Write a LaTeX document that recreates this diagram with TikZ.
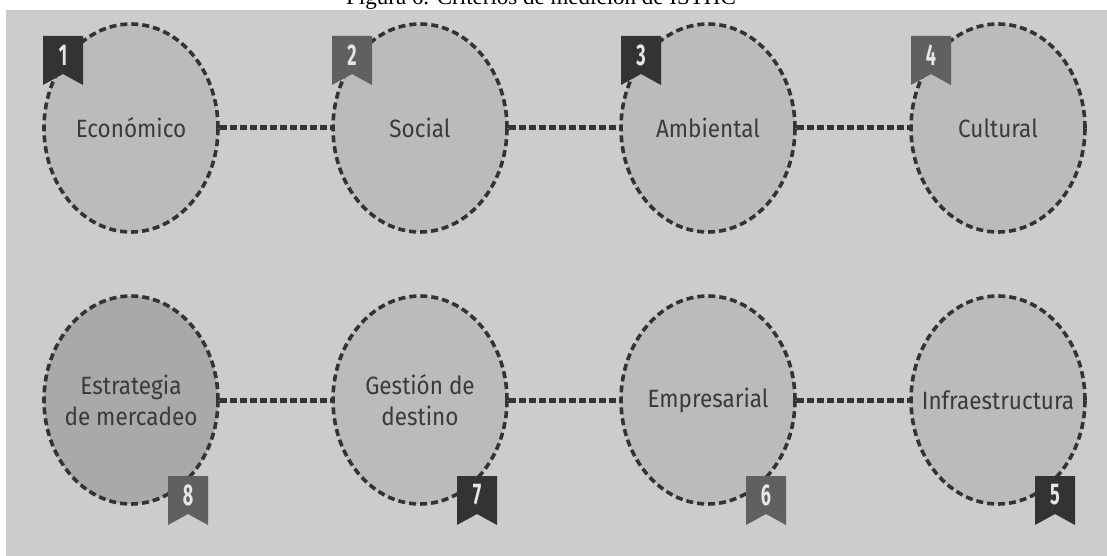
\documentclass[tikz,border=0pt]{standalone}
\usepackage{fontspec}
\usetikzlibrary{shapes.geometric,calc}
\newfontfamily\labfont[FakeStretch=0.9]{Fira Sans}
\newfontfamily\numfont[FakeStretch=0.6]{Fira Sans}
\newfontfamily\capfont{Liberation Serif}
\definecolor{bgc}{HTML}{CCCCCC}
\definecolor{bubc}{HTML}{BBBBBB}
\definecolor{bubd}{HTML}{A9A9A9}
\definecolor{dashc}{HTML}{333333}
\definecolor{txtc}{HTML}{3A3A3A}
\definecolor{ribdark}{HTML}{333333}
\definecolor{ribmid}{HTML}{606060}
\definecolor{numc}{HTML}{E6E6E6}
\tikzset{
  bub/.style={ellipse, draw=dashc, fill=bubc, line width=3.6pt,
    dash pattern=on 7pt off 4pt, minimum width=174pt, minimum height=208pt,
    inner ysep=0pt, inner xsep=-45pt, text=txtc, align=center,
    font=\labfont\fontsize{25}{31}\selectfont},
  conn/.style={draw=dashc, line width=5pt, dash pattern=on 7pt off 3pt},
  numtxt/.style={text=numc, inner sep=0pt, font=\numfont\bfseries\fontsize{30}{30}\selectfont},
}
% ribbon: #1 name, #2 left x, #3 top y, #4 colour, #5 number
\newcommand\ribbonmark[5]{%
  \fill[#4] (#2,#3) -- ++(40,0) -- ++(0,49) -- ++(-20,-11) -- ++(-20,11) -- cycle;
  \node[numtxt] (#1) at ($(#2,#3)+(20,19)$) {#5};
}
\begin{document}
\begin{tikzpicture}[x=1pt,y=-1pt]
\useasboundingbox (0,0) rectangle (1107,556);
\fill[white] (0,0) rectangle (1107,556);
\node[font=\capfont\fontsize{23}{23}\selectfont, anchor=base] (cap) at (541,5) {Figura 6. Criterios de medición de ISTHC};
\fill[bgc] (6,10) rectangle (1107,556);
% top row
\node[bub] (e1) at (131,128) {Económico};
\node[bub] (e2) at (420,128) {Social};
\node[bub] (e3) at (708,128) {Ambiental};
\node[bub] (e4) at (998,128) {Cultural};
% bottom row
\node[bub, fill=bubd] (e8) at (131,400) {Estrategia\\de mercadeo};
\node[bub] (e7) at (420,400) {Gestión de\\destino};
\node[bub] (e6) at (708,400) {Empresarial};
\node[bub] (e5) at (998,400) {Infraestructura};
% connectors
\draw[conn] (e1.east) -- (e2.west);
\draw[conn] (e2.east) -- (e3.west);
\draw[conn] (e3.east) -- (e4.west);
\draw[conn] (e8.east) -- (e7.west);
\draw[conn] (e7.east) -- (e6.west);
\draw[conn] (e6.east) -- (e5.west);
% ribbons
\ribbonmark{n1}{43}{36}{ribdark}{1}
\ribbonmark{n2}{332}{36}{ribmid}{2}
\ribbonmark{n3}{621}{36}{ribdark}{3}
\ribbonmark{n4}{911}{36}{ribmid}{4}
\ribbonmark{n8}{168}{476}{ribmid}{8}
\ribbonmark{n7}{457}{476}{ribdark}{7}
\ribbonmark{n6}{746}{476}{ribmid}{6}
\ribbonmark{n5}{1035}{476}{ribdark}{5}
\end{tikzpicture}
\end{document}
